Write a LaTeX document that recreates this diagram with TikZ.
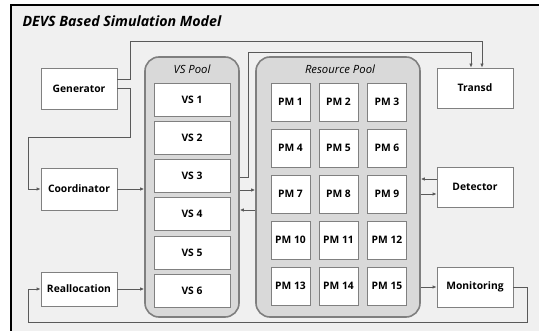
\documentclass[tikz,border=0pt]{standalone}
\usepackage{fontspec}
\setmainfont{Open Sans}
\usetikzlibrary{arrows.meta}
\definecolor{bggray}{HTML}{F0F0F0}
\definecolor{poolfill}{HTML}{D9D9D9}
\definecolor{poolline}{HTML}{7F7F7F}
\definecolor{boxline}{HTML}{808080}
\definecolor{conn}{HTML}{5A5A5A}
\tikzset{
  box/.style={draw=boxline, line width=0.8pt, fill=white, minimum width=76pt, inner sep=0pt,
    font=\fontsize{10.3pt}{12pt}\selectfont\bfseries},
  vsbox/.style={box, minimum width=76pt, minimum height=33pt},
  pmbox/.style={box, minimum width=39pt, minimum height=38pt},
  pool/.style={draw=poolline, line width=1.6pt, fill=poolfill, rounded corners=14pt, inner sep=0pt},
  pooltitle/.style={font=\fontsize{11.3pt}{13pt}\selectfont\itshape},
  conn/.style={draw=conn, line width=0.8pt},
  arr/.style={conn, -{Latex[length=4pt,width=3.5pt]}}
}
\begin{document}
\begin{tikzpicture}[x=1pt,y=-1pt]
\useasboundingbox (0,0) rectangle (539,331);
\fill[bggray] (11,5) rectangle (539,331);
\draw[black, line width=1.6pt] (11,331) -- (11,5) -- (539,5);
\node[anchor=west, font=\fontsize{14.2pt}{16pt}\selectfont\bfseries\itshape] (title) at (19,21) {DEVS Based Simulation Model};

% pools
\node[pool, minimum width=94pt, minimum height=260pt] (vspool) at (192,187) {};
\node[pool, minimum width=164pt, minimum height=260pt] (rpool) at (338,187) {};
\node[pooltitle] (vstitle) at (192,69) {VS Pool};
\node[pooltitle] (rtitle) at (340,69) {Resource Pool};

% VS boxes
\node[vsbox] (vs1) at (192,99.5) {VS 1};
\node[vsbox] (vs2) at (192,137.5) {VS 2};
\node[vsbox] (vs3) at (192,175.5) {VS 3};
\node[vsbox] (vs4) at (192,213.5) {VS 4};
\node[vsbox] (vs5) at (192,252.5) {VS 5};
\node[vsbox] (vs6) at (192,290.5) {VS 6};

% PM boxes
\foreach \r/\y in {0/102,1/148,2/194,3/240,4/286}{
  \foreach \c/\x in {1/290.5,2/338.5,3/387}{
    \pgfmathtruncatemacro{\n}{\r*3+\c}
    \node[pmbox] (pm\n) at (\x,\y) {PM \n};
  }
}

% side boxes
\node[box, minimum height=41pt] (gen) at (79,88.5) {Generator};
\node[box, minimum height=42pt] (coord) at (79,189) {Coordinator};
\node[box, minimum height=34pt] (realloc) at (79,289) {Reallocation};
\node[box, minimum height=40pt] (transd) at (475,88) {Transd};
\node[box, minimum height=40pt] (detector) at (475,187) {Detector};
\node[box, minimum height=40pt] (monitor) at (475,287) {Monitoring};

% connectors
\draw[arr] ([yshift=9.5pt]gen.east) -| (130,41) -| ([xshift=7pt]transd.north);
\draw[arr] (gen.east) -- (130,88.5) -- (130,137) -- (28,137) |- (coord.west);
\draw[arr] (coord.east) -- (vspool.west |- coord.east);
\draw[arr] (realloc.east) -- (vspool.west |- realloc.east);
\draw[arr] (vspool.east |- 0,177) -| (248,52) -| ([xshift=-4pt]transd.north);
\draw[arr] (vspool.east |- 0,190) -- (rpool.west |- 0,190);
\draw[arr] (rpool.west |- 0,210) -- (vspool.east |- 0,210);
\draw[arr] ([yshift=8pt]detector.west) -- (rpool.east |- 0,179);
\draw[arr] (rpool.east |- 0,194) -- ([yshift=-7pt]detector.west);
\draw[arr] (rpool.east |- monitor.west) -- (monitor.west);
\draw[arr] (monitor.east) -- (527,287) -- (527,322) -- (28,322) |- (realloc.west);
\end{tikzpicture}
\end{document}
